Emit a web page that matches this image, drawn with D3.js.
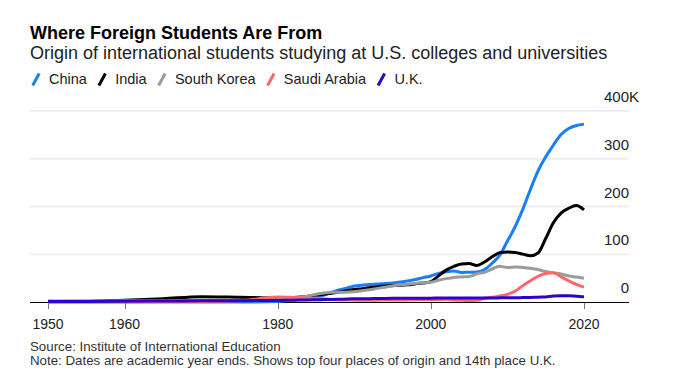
<!DOCTYPE html>
<html>
<head>
<meta charset="utf-8">
<script src="https://cdn.jsdelivr.net/npm/d3@7"></script>
<style>
  body { margin: 0; background: #fff; }
  svg { display: block; font-family: "Liberation Sans", Arial, sans-serif; }
</style>
</head>
<body>
<svg id="chart" width="674" height="388"></svg>
<script>
// Academic year ends; five-year steps before 1980, yearly after
const years = [1950, 1955, 1960, 1965, 1970, 1975,
  1980, 1981, 1982, 1983, 1984, 1985, 1986, 1987, 1988, 1989,
  1990, 1991, 1992, 1993, 1994, 1995, 1996, 1997, 1998, 1999,
  2000, 2001, 2002, 2003, 2004, 2005, 2006, 2007, 2008, 2009,
  2010, 2011, 2012, 2013, 2014, 2015, 2016, 2017, 2018, 2019,
  2020];

// Students, thousands
const china = [0, 0, 0, 0, 0, 0,
  1.0, 2.8, 4.4, 6.2, 10.1, 10.1, 14.0, 20.0, 25.2, 29.0,
  33.4, 35.0, 36.5, 37.5, 39.0, 40.0, 42.0, 44.0, 47.0, 51.0,
  54.5, 59.9, 63.2, 64.8, 61.8, 62.5, 62.6, 67.7, 81.1, 98.2,
  127.6, 157.6, 194.0, 235.6, 274.4, 304.0, 328.5, 350.8, 363.3, 369.5,
  372.5];
const india = [1.4, 1.7, 3.8, 6.8, 11.0, 10.0,
  8.8, 9.0, 9.4, 10.3, 12.0, 14.6, 16.0, 18.4, 20.8, 23.4,
  26.2, 28.0, 30.0, 32.0, 33.5, 34.5, 35.0, 36.0, 38.0, 40.0,
  42.3, 54.7, 66.8, 74.6, 79.7, 80.5, 76.5, 83.8, 94.6, 103.3,
  104.9, 103.9, 100.3, 96.8, 102.7, 132.9, 165.9, 186.3, 196.3, 202.0,
  193.1];
const southKorea = [0.5, 1.5, 2.5, 2.6, 3.9, 3.4,
  4.9, 6.2, 8.1, 10.0, 12.5, 16.4, 18.7, 20.5, 20.5, 20.6,
  21.7, 23.4, 25.7, 28.5, 31.1, 33.6, 36.2, 37.1, 39.0, 40.0,
  41.2, 45.7, 49.0, 51.5, 52.5, 53.4, 59.0, 62.4, 69.1, 75.1,
  72.2, 73.4, 72.3, 70.6, 68.0, 63.7, 61.0, 58.7, 54.6, 52.3,
  49.8];
const saudiArabia = [0.2, 0.4, 0.6, 0.8, 1.1, 2.5,
  10.4, 10.2, 9.5, 8.8, 8.0, 7.8, 6.5, 5.2, 4.6, 4.1,
  4.0, 3.7, 3.8, 3.9, 4.2, 4.2, 4.2, 4.6, 4.8, 5.2,
  5.2, 5.3, 5.6, 4.2, 3.5, 3.0, 3.4, 7.9, 9.9, 12.7,
  15.8, 22.7, 34.1, 44.6, 53.9, 59.9, 61.3, 52.6, 44.4, 37.1,
  31.0];
const uk = [1.0, 1.3, 1.6, 2.0, 2.4, 2.8,
  3.4, 3.6, 3.8, 4.0, 4.3, 4.6, 5.0, 5.4, 5.8, 6.2,
  6.6, 6.8, 7.0, 7.2, 7.4, 7.6, 7.7, 7.8, 7.9, 8.1,
  8.1, 8.4, 8.4, 8.3, 8.4, 8.2, 8.3, 8.4, 8.4, 8.7,
  8.9, 8.9, 9.2, 9.5, 10.2, 10.7, 12.5, 13.0, 13.0, 12.0,
  10.8];

const seriesNames = ['China', 'India', 'South Korea', 'Saudi Arabia', 'U.K.'];
const seriesColors = ['#1a7ef8', '#000000', '#9b9b9b', '#ff6868', '#2e00d2'];
const seriesValues = [china, india, southKorea, saudiArabia, uk];

const yTicks = [0, 100, 200, 300, 400];
const xTicks = [1950, 1960, 1980, 2000, 2020];

const svg = d3.select('#chart');

// Scales
const x = d3.scaleLinear().domain([1950, 2020]).range([48, 584]);
const y = d3.scaleLinear().domain([0, 400]).range([302, 111]);
const plotLeft = 30, plotRight = 629;

// Header
svg.append('text')
    .attr('x', 30).attr('y', 38.5)
    .attr('font-size', 18).attr('font-weight', 'bold').attr('fill', '#000')
    .text('Where Foreign Students Are From');

svg.append('text')
    .attr('x', 30).attr('y', 59)
    .attr('font-size', 18).attr('fill', '#222')
    .text('Origin of international students studying at U.S. colleges and universities');

// Legend
const legend = svg.append('g');
let lx = 31.7;
seriesNames.forEach((name, i) => {
    legend.append('line')
        .attr('x1', lx + 1).attr('y1', 85.5)
        .attr('x2', lx + 7.5).attr('y2', 73.5)
        .attr('stroke', seriesColors[i]).attr('stroke-width', 3);
    const t = legend.append('text')
        .attr('x', lx + 17.3).attr('y', 84)
        .attr('font-size', 14.5).attr('fill', '#222')
        .text(name);
    lx += 17.3 + t.node().getComputedTextLength() + 11;
});

// Gridlines
svg.append('g')
    .selectAll('line')
    .data(yTicks.filter(d => d > 0))
    .join('line')
    .attr('x1', plotLeft).attr('x2', plotRight)
    .attr('y1', d => y(d)).attr('y2', d => y(d))
    .attr('stroke', '#efefef').attr('stroke-width', 2);

// Y labels, sitting above their gridlines
const yLabels = svg.append('g')
    .attr('font-size', 15).attr('fill', '#222');
yLabels.selectAll('text')
    .data(yTicks)
    .join('text')
    .attr('x', plotRight).attr('y', d => y(d) - 9)
    .attr('text-anchor', 'end')
    .text(d => d);
yLabels.append('text')
    .attr('x', plotRight).attr('y', y(400) - 9)
    .text('K');

// X axis
svg.append('line')
    .attr('x1', plotLeft).attr('x2', plotRight)
    .attr('y1', y(0) + 0.5).attr('y2', y(0) + 0.5)
    .attr('stroke', '#000').attr('stroke-width', 1);

const xAxis = svg.append('g');
xAxis.selectAll('line')
    .data(xTicks)
    .join('line')
    .attr('x1', d => Math.round(x(d)) + 0.5).attr('x2', d => Math.round(x(d)) + 0.5)
    .attr('y1', y(0) + 1).attr('y2', y(0) + 7)
    .attr('stroke', '#777').attr('stroke-width', 1);
xAxis.selectAll('text')
    .data(xTicks)
    .join('text')
    .attr('x', d => x(d)).attr('y', 328.5)
    .attr('text-anchor', 'middle')
    .attr('font-size', 14).attr('fill', '#222')
    .text(d => d);

// Lines
const line = d3.line()
    .x((d, i) => x(years[i]))
    .y(d => y(d))
    .curve(d3.curveMonotoneX);

svg.append('g')
    .selectAll('path')
    .data(seriesValues)
    .join('path')
    .attr('d', d => line(d))
    .attr('fill', 'none')
    .attr('stroke', (d, i) => seriesColors[i])
    .attr('stroke-width', 3)
    .attr('stroke-linejoin', 'round');

// Footer
svg.append('text')
    .attr('x', 30).attr('y', 351)
    .attr('font-size', 13.3).attr('fill', '#333')
    .text('Source: Institute of International Education');
svg.append('text')
    .attr('x', 30).attr('y', 364.5)
    .attr('font-size', 13.3).attr('fill', '#333')
    .text('Note: Dates are academic year ends. Shows top four places of origin and 14th place U.K.');
</script>
</body>
</html>
